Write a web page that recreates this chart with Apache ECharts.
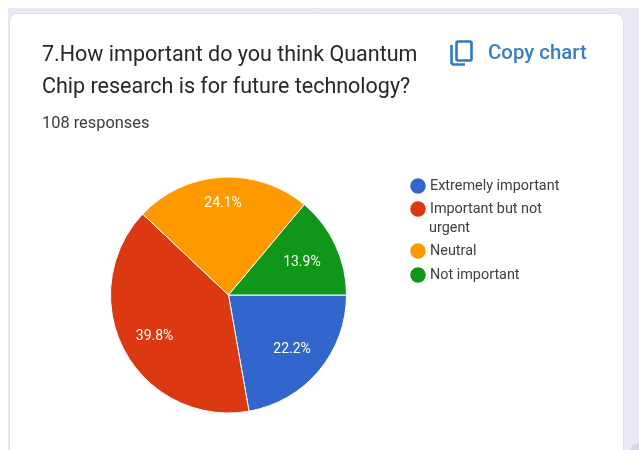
<!DOCTYPE html>
<html>
<head>
<meta charset="utf-8">
<style>html,body{margin:0;padding:0;background:#fff}#chart{width:639px;height:450px}</style>
<script src="https://cdn.jsdelivr.net/npm/echarts@6/dist/echarts.min.js"></script>
</head>
<body>
<div id="chart"></div>
<script>
// Survey answers for question 7 (response counts out of 108)
const categories = ['Extremely important', 'Important but not urgent', 'Neutral', 'Not important'];
const responseCounts = [24, 43, 26, 15];
const sliceColors = ['#3366cc', '#dc3912', '#ff9900', '#109618'];
const questionLines = ['7.How important do you think Quantum', 'Chip research is for future technology?'];
const responseNote = '108 responses';
const FONT = 'Roboto';
const PIE_CENTER = [228.5, 295];
const legendCenters = [185, 208, 250, 274];
// distance of each percentage label from the pie centre
const labelRadii = [83, 84, 93, 81];

const chart = echarts.init(document.getElementById('chart'), null, { renderer: 'canvas' });

function textEl(x, y, text, size, fill, weight) {
  return { type: 'text', x, y, z: 5, style: { text, fontFamily: FONT, fontSize: size, fontWeight: weight || 400, fill, textVerticalAlign: 'middle' } };
}

// angle of a slice's bisector, clockwise from three o'clock
function bisector(index) {
  const total = responseCounts.reduce((a, b) => a + b, 0);
  const before = responseCounts.slice(0, index).reduce((a, b) => a + b, 0);
  return (before + responseCounts[index] / 2) / total * 2 * Math.PI;
}

chart.setOption({
  animation: false,
  backgroundColor: '#ffffff',
  graphic: [
    // page backdrop, white card and the scrollbar nub in the corner
    { type: 'rect', z: -3, shape: { x: 8, y: 8, width: 631, height: 442 }, style: { fill: '#ebe8f6' } },
    { type: 'rect', z: -2, shape: { x: 9.5, y: 13.5, width: 614, height: 460, r: 8 }, style: { fill: '#ffffff', stroke: '#dfdfe6', lineWidth: 1 } },
    { type: 'rect', z: -1, shape: { x: 631, y: 444, width: 12, height: 14, r: 5 }, style: { fill: '#d9d7e4' } },
    textEl(42, 56, questionLines[0], 21.5, '#25272b'),
    textEl(42, 88, questionLines[1], 21.5, '#25272b'),
    textEl(42, 123.5, responseNote, 16.4, '#3a3c40'),
    // copy icon
    { type: 'rect', z: 5, shape: { x: 456.5, y: 41.5, width: 15, height: 19, r: 1.5 }, style: { fill: 'none', stroke: '#2f7ac4', lineWidth: 2.6 } },
    { type: 'polyline', z: 5, shape: { points: [[451.5, 45], [451.5, 63], [453, 64.5], [465, 64.5]] }, style: { fill: 'none', stroke: '#2f7ac4', lineWidth: 2.6 } },
    textEl(488, 54, 'Copy chart', 20.4, '#3a7fc0', 500),
    textEl(429, 228, 'urgent', 14.4, '#3c4043')
  ],
  legend: categories.map((name, i) => ({
    data: [name],
    left: 408.25,
    top: legendCenters[i] - 8.75,
    orient: 'vertical',
    icon: 'circle',
    itemWidth: 17.5,
    itemHeight: 17.5,
    itemGap: 0,
    padding: 0,
    selectedMode: false,
    // the second entry continues on its own line below
    formatter: (n) => n.replace(' urgent', ''),
    textStyle: { fontFamily: FONT, fontSize: 14.4, color: '#3c4043', padding: [0, 0, 0, -1.75] }
  })),
  series: [{
    type: 'pie',
    center: PIE_CENTER,
    radius: [0, 118],
    startAngle: 0,
    clockwise: true,
    silent: true,
    data: categories.map((name, i) => ({ name, value: responseCounts[i], itemStyle: { color: sliceColors[i] } })),
    itemStyle: { borderColor: '#ffffff', borderWidth: 1 },
    label: {
      position: 'inner',
      formatter: (p) => p.percent.toFixed(1) + '%',
      fontFamily: FONT,
      fontSize: 14,
      color: '#ffffff'
    },
    labelLine: { show: false },
    // set the percentages further out along each slice's bisector
    labelLayout: (p) => {
      const a = bisector(p.dataIndex);
      return {
        x: PIE_CENTER[0] + Math.cos(a) * labelRadii[p.dataIndex],
        y: PIE_CENTER[1] + Math.sin(a) * labelRadii[p.dataIndex] + 1.5,
        align: 'center',
        verticalAlign: 'middle'
      };
    }
  }]
});
</script>
</body>
</html>
